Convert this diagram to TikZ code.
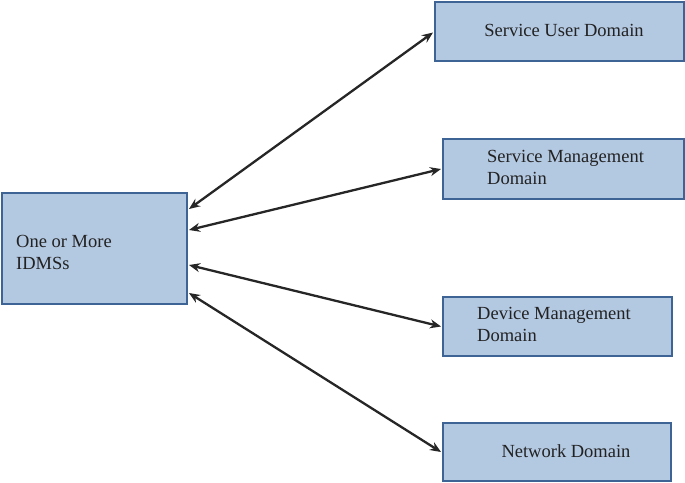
\documentclass[tikz,border=0pt]{standalone}
\usepackage{fontspec}
\setmainfont{Liberation Serif}
\newfontfamily\lserif{Liberation Serif}
\usetikzlibrary{arrows.meta,calc}
\definecolor{boxfill}{HTML}{B3C8E1}
\definecolor{boxline}{HTML}{3E6496}
\definecolor{txt}{HTML}{222222}
\begin{document}
\begin{tikzpicture}[x=1pt,y=-1pt,
  box/.style={draw=boxline,fill=boxfill,line width=2pt,inner sep=0pt,anchor=north west},
  lbl/.style={text=txt,inner sep=0pt,font=\lserif\fontsize{18.5}{22}\selectfont},
  link/.style={line width=2.3pt,draw=black!85,{Stealth[length=11pt,width=9pt]}-{Stealth[length=11pt,width=9pt]}}]
\useasboundingbox (0,0) rectangle (685,482);
\node[box,minimum width=185pt,minimum height=111pt] (idms) at (1,192) {};
\node[box,minimum width=249pt,minimum height=59pt] (sud) at (434,1) {};
\node[box,minimum width=241pt,minimum height=60pt] (smd) at (442,138) {};
\node[box,minimum width=229pt,minimum height=59pt] (dmd) at (442,296) {};
\node[box,minimum width=228pt,minimum height=58pt] (nd) at (442,422) {};
\node[lbl,anchor=west,align=left] (tidms) at (16,252) {One or More\\IDMSs};
\node[lbl] (tsud) at (564,30) {Service User Domain};
\node[lbl,anchor=west,align=left] (tsmd) at (487,167) {Service Management\\Domain};
\node[lbl,anchor=west,align=left] (tdmd) at (477,324) {Device Management\\Domain};
\node[lbl] (tnd) at (566,451) {Network Domain};
\coordinate (a1) at ($(idms.north east)+(1,17)$);
\coordinate (a2) at ($(idms.north east)+(1,38)$);
\coordinate (a3) at ($(idms.north east)+(1,73)$);
\coordinate (a4) at ($(idms.north east)+(1,101)$);
\draw[link] (a1) -- ($(sud.west)+(-1,1)$) coordinate (b1);
\draw[link] (a2) -- ($(smd.west)+(-1,0)$) coordinate (b2);
\draw[link] (a3) -- ($(dmd.west)+(-1,0)$) coordinate (b3);
\draw[link] (a4) -- ($(nd.west)+(-1,0)$) coordinate (b4);
\end{tikzpicture}
\end{document}
